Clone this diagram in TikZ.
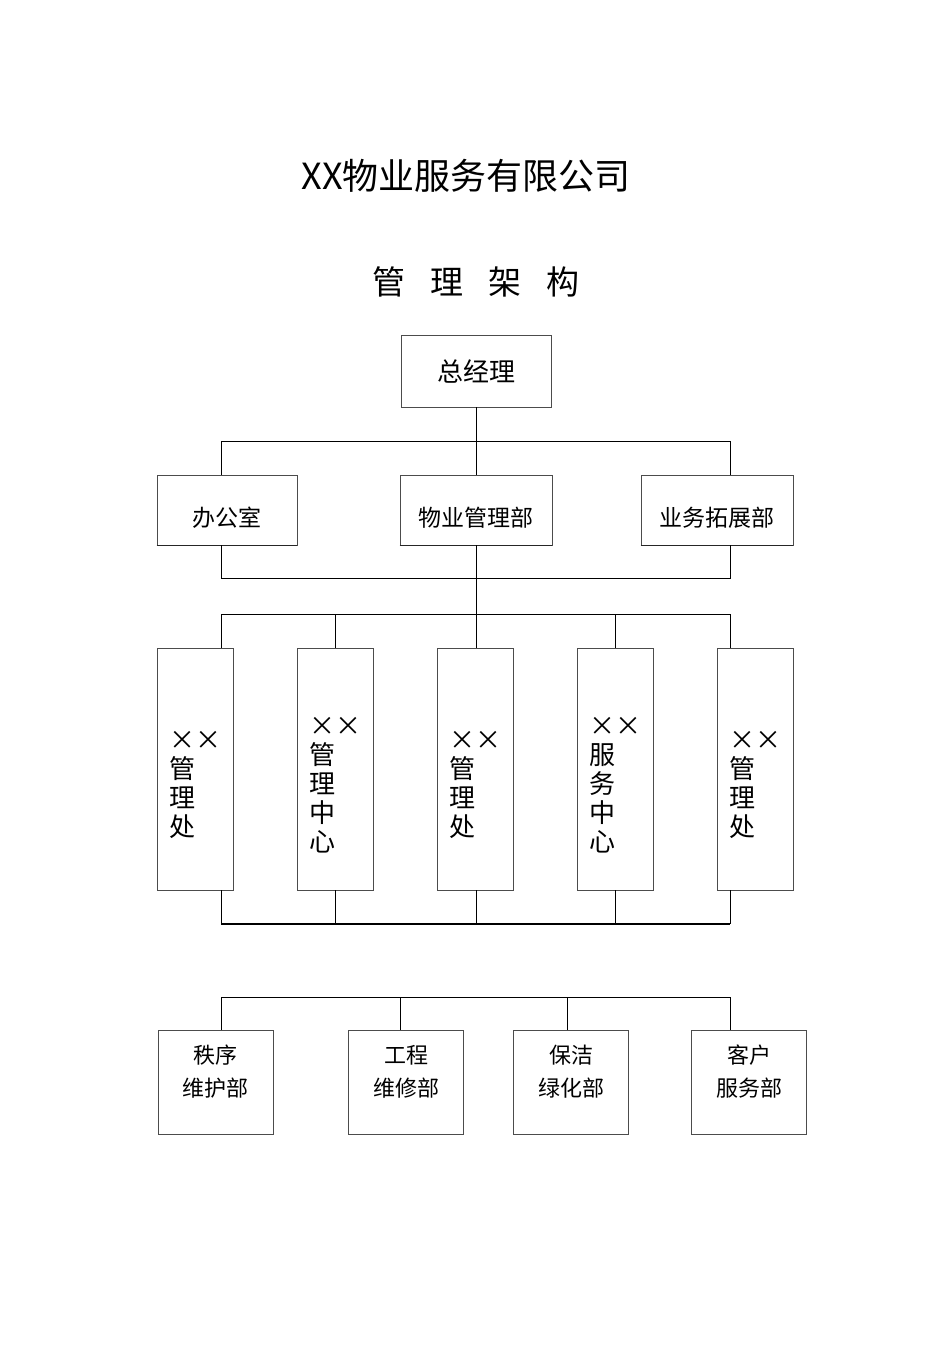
\documentclass[tikz,border=0pt]{standalone}
\usepackage{fontspec}
\setmainfont{Noto Sans CJK SC}
\usetikzlibrary{positioning}
\newcommand{\twox}{\makebox[1em]{\scalebox{1.0}{×}}\makebox[1em]{\scalebox{1.0}{×}}}

\begin{document}
\begin{tikzpicture}[x=1pt, y=-1pt,
  box/.style={rectangle, draw=black!70, line width=0.9pt, inner sep=0pt},
  headbox/.style={box, minimum width=150pt, minimum height=72pt, font=\fontsize{26}{30}\selectfont},
  deptbox/.style={box, minimum height=70pt},
  unitbox/.style={box, minimum width=76pt, minimum height=242pt},
  teambox/.style={box, minimum width=115pt, minimum height=104pt},
  depttext/.style={font=\fontsize{23}{26}\selectfont, yshift=-8pt},
  unittext/.style={font=\fontsize{26}{29}\selectfont, align=left, yshift=-16pt},
  teamtext/.style={font=\fontsize{22}{33}\selectfont, align=center, yshift=10pt},
  link/.style={draw=black, line width=0.8pt}
]
\useasboundingbox (0,0) rectangle (950,1345);
% Titles
\node[font=\fontsize{36}{40}\selectfont] (title) at (466,176) {XX物业服务有限公司};
\node[font=\fontsize{33}{38}\selectfont] (subtitle) at (476,282) {管\hspace{0.76em}理\hspace{0.76em}架\hspace{0.76em}构};
% Boxes
\node[headbox] (gm) at (476,371) {总经理};
\node[deptbox, minimum width=140pt, label={[depttext]center:办公室}] (office) at (227,510) {};
\node[deptbox, minimum width=152pt, label={[depttext]center:物业管理部}] (mgmt) at (476,510) {};
\node[deptbox, minimum width=152pt, label={[depttext]center:业务拓展部}] (expand) at (717,510) {};
\foreach \d in {office, mgmt, expand}
  \draw[line width=1.8pt, black!85] (\d.south west) -- (\d.south east);
\node[unitbox, label={[unittext]center:{\twox\\管\\理\\处}}] (u1) at (195,769) {};
\node[unitbox, label={[unittext]center:{\twox\\管\\理\\中\\心}}] (u2) at (335,769) {};
\node[unitbox, label={[unittext]center:{\twox\\管\\理\\处}}] (u3) at (475,769) {};
\node[unitbox, label={[unittext]center:{\twox\\服\\务\\中\\心}}] (u4) at (615,769) {};
\node[unitbox, label={[unittext]center:{\twox\\管\\理\\处}}] (u5) at (755,769) {};
\node[teambox, label={[teamtext]center:{秩序\\维护部}}] (t1) at (215.5,1082) {};
\node[teambox, label={[teamtext]center:{工程\\维修部}}] (t2) at (406,1082) {};
\node[teambox, label={[teamtext]center:{保洁\\绿化部}}] (t3) at (571,1082) {};
\node[teambox, label={[teamtext]center:{客户\\服务部}}] (t4) at (749,1082) {};
% Bus coordinates
\coordinate (b1l) at (221,441);
\coordinate (b1r) at (730,441);
\coordinate (b2l) at (221,578);
\coordinate (b2r) at (730,578);
\coordinate (b3l) at (221,614);
\coordinate (b3r) at (730,614);
\coordinate (b4l) at (221,924);
\coordinate (b4r) at (730,924);
\coordinate (b5l) at (221,997);
\coordinate (b5r) at (730,997);
% Connectors
\draw[link] (gm.south) -- (mgmt.north);
\draw[link] (b1l |- office.north) -- (b1l) -- (b1r) -- (b1r |- expand.north);
\draw[link] (b2l |- office.south) -- (b2l) -- (b2r) -- (b2r |- expand.south);
\draw[link] (mgmt.south) -- (mgmt.south |- b3l);
\draw[link] (b3l) -- (b3r);
\foreach \u/\cx in {u1/221, u2/335, u3/476, u4/615, u5/730} {
  \draw[link] (\cx,614) -- (\cx,614 |- \u.north);
  \draw[link] (\cx,924 |- \u.south) -- (\cx,924);
}
\draw[link, line width=1.6pt] (b4l) -- (b4r);
\draw[link] (b5l) -- (b5r);
\foreach \t/\cx in {t1/221, t2/400, t3/567, t4/730}
  \draw[link] (\cx,997) -- (\cx,997 |- \t.north);
\end{tikzpicture}
\end{document}
